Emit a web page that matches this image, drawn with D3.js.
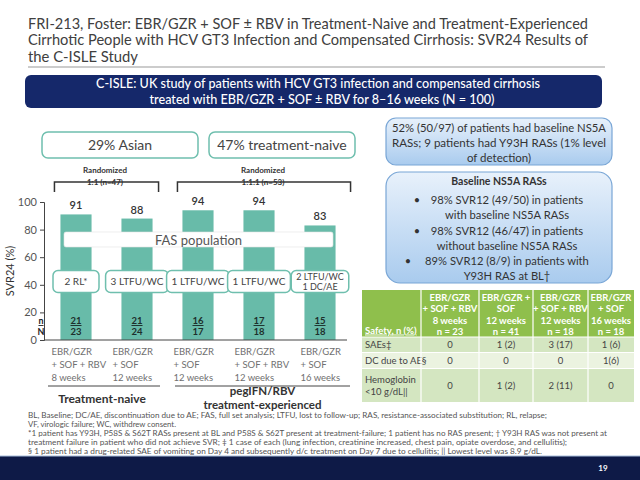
<!DOCTYPE html>
<html><head><meta charset="utf-8">
<script src="https://cdn.jsdelivr.net/npm/d3@7"></script>
<style>body{margin:0;background:#fff}svg{display:block}</style>
</head><body>
<script>
// ---------- DATA ----------
const categories = ["EBR/GZR + SOF + RBV 8 weeks","EBR/GZR + SOF 12 weeks (TN)","EBR/GZR + SOF 12 weeks (TE)","EBR/GZR + SOF + RBV 12 weeks","EBR/GZR + SOF 16 weeks"];
const categoryLines = [["EBR/GZR","+ SOF + RBV","8 weeks"],["EBR/GZR","+ SOF","12 weeks"],["EBR/GZR","+ SOF","12 weeks"],["EBR/GZR","+ SOF + RBV","12 weeks"],["EBR/GZR","+ SOF","16 weeks"]];
const svr24 = [91, 88, 94, 94, 83];
const nResponders = [21, 21, 16, 17, 15];
const nTotal = [23, 24, 17, 18, 18];
const failureReasons = [["2 RL*"],["3 LTFU/WC"],["1 LTFU/WC"],["1 LTFU/WC"],["2 LTFU/WC","1 DC/AE"]];
const yTicks = [0, 20, 40, 60, 80, 100];
const groupLabels = [["Treatment-naive"],["pegIFN/RBV","treatment-experienced"]];
const randomizedLabels = [["Randomized","1:1 (n=47)"],["Randomized","1:1:1 (n=53)"]];
const titleLines = ["FRI-213, Foster: EBR/GZR + SOF ± RBV in Treatment-Naive and Treatment-Experienced","Cirrhotic People with HCV GT3 Infection and Compensated Cirrhosis: SVR24 Results of","the C-ISLE Study"];
const bannerLines = ["C-ISLE: UK study of patients with HCV GT3 infection and compensated cirrhosis","treated with EBR/GZR + SOF ± RBV for 8–16 weeks (N = 100)"];
const statBoxes = ["29% Asian","47% treatment-naive"];
const rasNote = ["52% (50/97) of patients had baseline NS5A","RASs; 9 patients had Y93H RASs (1% level","of detection)"];
const rasTitle = "Baseline NS5A RASs";
const rasBullets = [["98% SVR12 (49/50) in patients","with baseline NS5A RASs"],["98% SVR12 (46/47) in patients","without baseline NS5A RASs"],["89% SVR12 (8/9) in patients with","Y93H RAS at BL†"]];
const tableHeader = [["Safety, n (%)"],["EBR/GZR","+ SOF + RBV","8 weeks","n = 23"],["EBR/GZR +","SOF","12 weeks","n = 41"],["EBR/GZR","+ SOF + RBV","12 weeks","n = 18"],["EBR/GZR","+ SOF","16 weeks","n = 18"]];
const tableRowLabels = [["SAEs‡"],["DC due to AE§"],["Hemoglobin","<10 g/dL||"]];
const tableValues = [["0","1 (2)","3 (17)","1 (6)"],["0","0","0","1(6)"],["0","1 (2)","2 (11)","0"]];
const footnotes = ["BL, Baseline; DC/AE, discontinuation due to AE; FAS, full set analysis; LTFU, lost to follow-up; RAS, resistance-associated substitution; RL, relapse;",
"VF, virologic failure; WC, withdrew consent.",
"*1 patient has Y93H, P58S & S62T RASs present at BL and P58S & S62T present at treatment-failure; 1 patient has no RAS present; † Y93H RAS was not present at",
"treatment failure in patient who did not achieve SVR; ‡ 1 case of each (lung infection, creatinine increased, chest pain, opiate overdose, and cellulitis);",
"§ 1 patient had a drug-related SAE of vomiting on Day 4 and subsequently d/c treatment on Day 7 due to cellulitis; || Lowest level was 8.9 g/dL."];
const pageNumber = "19";

// ---------- RENDER ----------
const W = 640, H = 480;
const FONT = "Lato, 'Open Sans', 'Noto Sans', sans-serif";
const TEAL = "#68bba9", TEAL_BORDER = "#6fbfae", NAVY = "#15286a";
const svg = d3.select("body").append("svg").attr("width", W).attr("height", H)
  .style("font-family", FONT);

function txt(g, s, x, y, opt = {}) {
  const t = g.append("text").attr("x", x).attr("y", y).text(s)
    .attr("font-size", opt.size || 10).attr("fill", opt.fill || "#444")
    .attr("text-anchor", opt.anchor || "start")
    .attr("font-weight", opt.weight || "normal");
  if (opt.len) t.attr("textLength", opt.len).attr("lengthAdjust", "spacingAndGlyphs");
  return t;
}

// Title
const titleEnds = [588, 588, 138];
titleLines.forEach((s, i) => txt(svg, s, 28, 28.5 + i * 16.8, {size: 15, fill: "#404040", len: titleEnds[i] - 28}));
svg.append("line").attr("x1", 28).attr("x2", 605).attr("y1", 67).attr("y2", 67).attr("stroke", "#9a9a9a").attr("stroke-width", 1.2);

// Banner
svg.append("rect").attr("x", 25).attr("y", 75).attr("width", 577).attr("height", 33).attr("rx", 6).attr("fill", NAVY);
txt(svg, bannerLines[0], 318, 88, {size: 12.5, fill: "#fff", anchor: "middle", len: 444, weight: 500});
txt(svg, bannerLines[1], 322, 104, {size: 12.5, fill: "#fff", anchor: "middle", len: 345, weight: 500});

// Stat boxes
[[42, 198], [209, 355]].forEach((r, i) => {
  svg.append("rect").attr("x", r[0]).attr("y", 132).attr("width", r[1] - r[0]).attr("height", 26).attr("rx", 6)
    .attr("fill", "#fff").attr("stroke", TEAL_BORDER).attr("stroke-width", 1.5);
  txt(svg, statBoxes[i], (r[0] + r[1]) / 2, 150, {size: 14, fill: "#444", anchor: "middle"});
});

// Scales
const x = d3.scaleBand().domain(categories).range([45.5, 350.5]).paddingInner(0.49).paddingOuter(0.245);
const y = d3.scaleLinear().domain([0, 100]).range([340, 202]);
const bw = x.bandwidth();
const cx = i => x(categories[i]) + bw / 2;

// Randomized brackets
const brk = [[x(categories[0]) - 6, x(categories[1]) + bw + 6], [x(categories[2]) - 5, x(categories[4]) + bw + 15]];
brk.forEach((b, i) => {
  svg.append("path").attr("d", `M${b[0]},192V182H${b[1]}V192`).attr("fill", "none").attr("stroke", "#333").attr("stroke-width", 1.5);
  const mid = i === 0 ? 105 : 263;
  txt(svg, randomizedLabels[i][0], mid, 173, {size: 8, fill: "#333", anchor: "middle", weight: "bold"});
  txt(svg, randomizedLabels[i][1], mid, 184.5, {size: 8, fill: "#333", anchor: "middle", weight: "bold"});
});

// Bars
const chart = svg.append("g");
chart.selectAll("rect.bar").data(svr24).join("rect").attr("class", "bar")
  .attr("x", (d, i) => x(categories[i])).attr("width", bw)
  .attr("y", d => y(d)).attr("height", d => y(0) - y(d)).attr("fill", TEAL);
chart.selectAll("text.val").data(svr24).join("text").attr("class", "val")
  .attr("x", (d, i) => cx(i)).attr("y", d => y(d) - 5).attr("text-anchor", "middle")
  .attr("font-size", 11).attr("font-weight", 600).attr("fill", "#333").text(d => d);

// Y axis
const yAxis = svg.append("g").attr("transform", "translate(44,0)")
  .call(d3.axisLeft(y).tickValues(yTicks).tickSize(4).tickPadding(3));
yAxis.select(".domain").attr("stroke", "#444");
yAxis.selectAll(".tick line").attr("stroke", "#444");
yAxis.selectAll(".tick text").attr("fill", "#555").attr("font-size", 11).attr("font-family", FONT);
svg.append("line").attr("x1", 44).attr("x2", 347).attr("y1", y(0)).attr("y2", y(0)).attr("stroke", "#444");
txt(svg, "SVR24 (%)", 0, 0, {size: 11, fill: "#333", anchor: "middle"}).attr("transform", "translate(14,271) rotate(-90)");

// FAS box
svg.append("rect").attr("x", 64).attr("y", 232).attr("width", 269).attr("height", 15).attr("rx", 2)
  .attr("fill", "#fff").attr("stroke", "#e3e3e3").attr("stroke-width", 0.6);
txt(svg, "FAS population", (64 + 333) / 2, 244.5, {size: 13, fill: "#555", anchor: "middle"});

// Failure reason boxes
failureReasons.forEach((lines, i) => {
  const g = svg.append("g");
  const ts = lines.map((s, k) => txt(g, s, cx(i), lines.length === 1 ? 285 : 279.5 + k * 10.5,
    {size: lines.length === 1 ? 10 : 9, fill: "#444", anchor: "middle"}));
  const wmax = d3.max(ts, t => t.node().getComputedTextLength());
  const bwid = Math.max(46, wmax + 10);
  g.insert("rect", "text").attr("x", cx(i) - bwid / 2).attr("y", 270.5).attr("width", bwid).attr("height", 22).attr("rx", 5)
    .attr("fill", "#fff").attr("stroke", TEAL_BORDER).attr("stroke-width", 1.5);
});

// n / N
txt(svg, "n", 41, 324, {size: 9, fill: "#222", anchor: "middle", weight: "bold"}).style("text-decoration", "underline");
txt(svg, "N", 41, 334.5, {size: 9, fill: "#222", anchor: "middle", weight: "bold"});
svg.selectAll("text.nr").data(nResponders).join("text").attr("class", "nr")
  .attr("x", (d, i) => cx(i)).attr("y", 324).attr("text-anchor", "middle").attr("font-size", 9.5)
  .attr("font-weight", "bold").attr("fill", "#1d2f2c").style("text-decoration", "underline").text(d => d);
svg.selectAll("text.nt").data(nTotal).join("text").attr("class", "nt")
  .attr("x", (d, i) => cx(i)).attr("y", 335).attr("text-anchor", "middle").attr("font-size", 9.5)
  .attr("font-weight", "bold").attr("fill", "#1d2f2c").text(d => d);

// Category labels
categoryLines.forEach((lines, i) => {
  lines.forEach((s, k) => txt(svg, s, x(categories[i]) - 9 + (i === 4 ? 5 : 0), 355 + k * 13, {size: 9.5, fill: "#707070"}));
});

// Group lines and labels
const grp = [[48, 160], [175, 350]];
grp.forEach((r, i) => {
  svg.append("line").attr("x1", r[0]).attr("x2", r[1]).attr("y1", 386).attr("y2", 386).attr("stroke", "#444").attr("stroke-width", 1);
  const mid = (r[0] + r[1]) / 2;
  if (groupLabels[i].length === 1) txt(svg, groupLabels[i][0], mid - 2, 403, {size: 12, fill: "#333", anchor: "middle", weight: "bold"});
  else groupLabels[i].forEach((s, k) => txt(svg, s, mid, 394.5 + k * 14, {size: 11.5, fill: "#333", anchor: "middle", weight: "bold"}));
});

// Right bubbles
const defs = svg.append("defs");
const gr = defs.append("linearGradient").attr("id", "bub").attr("x1", 0).attr("x2", 0).attr("y1", 0).attr("y2", 1);
gr.append("stop").attr("offset", "0%").attr("stop-color", "#e8f1fb");
gr.append("stop").attr("offset", "100%").attr("stop-color", "#a9cbee");
svg.append("rect").attr("x", 386).attr("y", 118).attr("width", 226).attr("height", 47).attr("rx", 10)
  .attr("fill", "url(#bub)").attr("stroke", "#79a6d6").attr("stroke-width", 1.2);
rasNote.forEach((s, k) => txt(svg, s, 499, 132 + k * 15, {size: 11.5, fill: "#333", anchor: "middle", len: k === 2 ? null : 214}));
svg.append("rect").attr("x", 386).attr("y", 172).attr("width", 226).attr("height", 111).attr("rx", 14)
  .attr("fill", "url(#bub)").attr("stroke", "#79a6d6").attr("stroke-width", 1.2);
txt(svg, rasTitle, 499, 185, {size: 10.5, fill: "#333", anchor: "middle", weight: "bold"});
rasBullets.forEach((lines, b) => {
  const y0 = 204 + b * 30.5;
  txt(svg, "•", b === 2 ? 408 : 417, y0, {size: 11, fill: "#333", anchor: "middle"});
  lines.forEach((s, k) => txt(svg, s, 507, y0 + k * 15, {size: 11.2, fill: "#333", anchor: "middle"}));
});

// Table
const colX = [362, 421, 479, 533, 588, 634];
const rowY = [290, 337, 352.5, 368.5, 402];
const HEAD = "#8fbf4c";
const rowFill = ["#d4e6c1", "#ebf3e0", "#d4e6c1"];
const tbl = svg.append("g");
for (let c = 0; c < 5; c++) {
  tbl.append("rect").attr("x", colX[c]).attr("y", rowY[0]).attr("width", colX[c + 1] - colX[c]).attr("height", rowY[1] - rowY[0]).attr("fill", HEAD);
  const L = tableHeader[c];
  if (c === 0) txt(tbl, L[0], colX[0] + 3, 333.5, {size: 9.5, fill: "#fff", weight: "bold"}).style("text-decoration", "underline");
  else L.forEach((s, k) => txt(tbl, s, (colX[c] + colX[c + 1]) / 2, 300.5 + k * 11.5, {size: 9.5, fill: "#fff", anchor: "middle", weight: "bold"}));
}
tableRowLabels.forEach((lab, r) => {
  for (let c = 0; c < 5; c++) {
    tbl.append("rect").attr("x", colX[c]).attr("y", rowY[r + 1]).attr("width", colX[c + 1] - colX[c]).attr("height", rowY[r + 2] - rowY[r + 1]).attr("fill", rowFill[r]);
  }
  const mid = (rowY[r + 1] + rowY[r + 2]) / 2;
  lab.forEach((s, k) => txt(tbl, s, colX[0] + 3, mid + 3.5 + (k - (lab.length - 1) / 2) * 11.5, {size: 9.5, fill: "#444"}));
  tableValues[r].forEach((v, c) => txt(tbl, v, (colX[c + 1] + colX[c + 2]) / 2, mid + 3.5, {size: 9.5, fill: "#444", anchor: "middle"}));
});
colX.slice(1, 5).forEach(cxv => tbl.append("line").attr("x1", cxv).attr("x2", cxv).attr("y1", rowY[0]).attr("y2", rowY[4]).attr("stroke", "#fff").attr("stroke-width", 1.2));
rowY.slice(1, 4).forEach(ry => tbl.append("line").attr("x1", colX[0]).attr("x2", colX[5]).attr("y1", ry).attr("y2", ry).attr("stroke", "#fff").attr("stroke-width", 1.2));

// Footnotes
const fnEnds = [547, 176, 607, 567, 542];
footnotes.forEach((s, k) => txt(svg, s, 28, 418 + k * 9.1, {size: 7.5, fill: "#555", len: fnEnds[k] - 28}));

// Footer
svg.append("rect").attr("x", 0).attr("y", 456).attr("width", W).attr("height", 24).attr("fill", "#0e1a47");
svg.append("line").attr("x1", 0).attr("x2", W).attr("y1", 456).attr("y2", 456).attr("stroke", "#a8bddb").attr("stroke-width", 1);
txt(svg, pageNumber, 603, 471, {size: 8, fill: "#fff", anchor: "middle", weight: "bold"});
</script>
</body></html>
